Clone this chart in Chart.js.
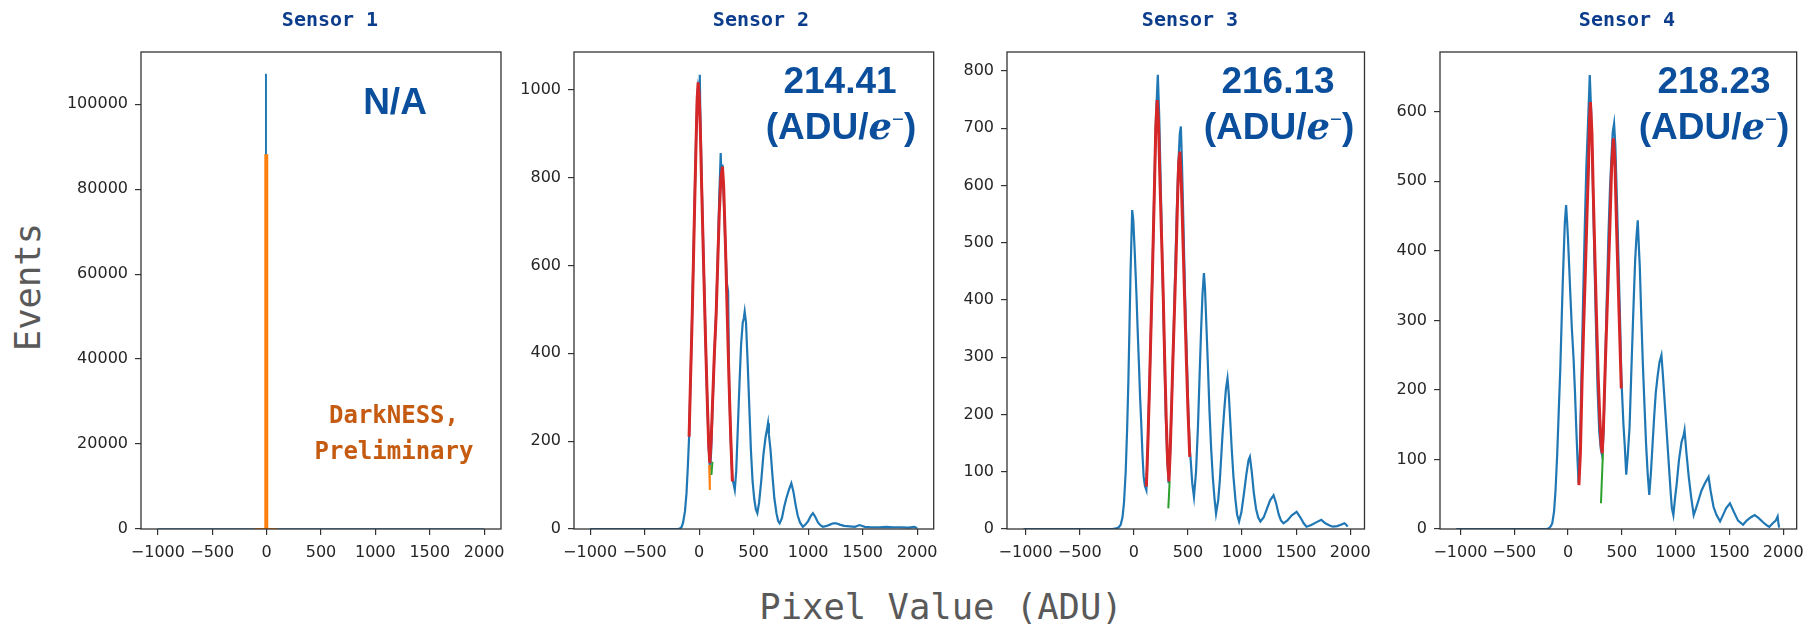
<!DOCTYPE html>
<html>
<head>
<meta charset="utf-8">
<script src="https://cdn.jsdelivr.net/npm/chart.js@4.4.0/dist/chart.umd.min.js"></script>
<style>
html, body { margin:0; padding:0; background:#fff; }
body { width:1812px; height:627px; overflow:hidden; position:relative; }
.pane { position:absolute; top:0; }
.txt { position:absolute; transform:translate(-50%,-50%); white-space:nowrap; line-height:1; }
.sensor { font-family:'DejaVu Sans Mono', monospace; font-weight:bold; font-size:20px; color:#0c3c8c; }
.gain { font-family:'Liberation Sans', Arial, sans-serif; font-weight:bold; font-size:37px; color:#0b4f9c; }
.gain .e { font-family:'DejaVu Serif', serif; font-style:italic; font-weight:bold; font-size:37px; }
.gain .sup { display:inline-block; position:relative; top:-0.62em; font-size:0.55em; font-weight:normal; }
.dark { font-family:'DejaVu Sans Mono', monospace; font-weight:bold; font-size:24px; color:#c55a11; }
.axlab { font-family:'DejaVu Sans Mono', monospace; font-size:35.5px; color:#595959; }
</style>
</head>
<body>
<!-- one canvas per sensor -->
<div class="pane" style="left:56px"><canvas id="c1" width="457" height="575"></canvas></div>
<div class="pane" style="left:489px"><canvas id="c2" width="457" height="575"></canvas></div>
<div class="pane" style="left:922px"><canvas id="c3" width="457" height="575"></canvas></div>
<div class="pane" style="left:1355px"><canvas id="c4" width="457" height="575"></canvas></div>

<div class="txt sensor" style="left:330px;top:19px">Sensor  1</div>
<div class="txt sensor" style="left:761px;top:19px">Sensor  2</div>
<div class="txt sensor" style="left:1190px;top:19px">Sensor  3</div>
<div class="txt sensor" style="left:1627px;top:19px">Sensor  4</div>

<div class="txt gain" style="left:395px;top:101px">N/A</div>
<div class="txt gain" style="left:840px;top:80px">214.41</div>
<div class="txt gain" style="left:841px;top:126px">(ADU/<span class="e">e</span><span class="sup">−</span>)</div>
<div class="txt gain" style="left:1278px;top:80px">216.13</div>
<div class="txt gain" style="left:1279px;top:126px">(ADU/<span class="e">e</span><span class="sup">−</span>)</div>
<div class="txt gain" style="left:1714px;top:80px">218.23</div>
<div class="txt gain" style="left:1714px;top:126px">(ADU/<span class="e">e</span><span class="sup">−</span>)</div>

<div class="txt dark" style="left:394px;top:415px">DarkNESS,</div>
<div class="txt dark" style="left:394px;top:451px">Preliminary</div>

<div class="txt axlab" style="left:28px;top:287px;transform:translate(-50%,-50%) rotate(-90deg)">Events</div>
<div class="txt axlab" style="left:941px;top:607px">Pixel Value (ADU)</div>

<script>
//______________________________________________________
// tick labels
const xTicks  = [-1000, -500, 0, 500, 1000, 1500, 2000];
const yTicks1 = [0, 20000, 40000, 60000, 80000, 100000];
const yTicks2 = [0, 200, 400, 600, 800, 1000];
const yTicks3 = [0, 100, 200, 300, 400, 500, 600, 700, 800];
const yTicks4 = [0, 100, 200, 300, 400, 500, 600];

// sensor 1 : single spike, no gain
const s1Blue   = [[-1000,0],[-8,0],[-8,107000],[-4,107000],[-4,0],[2000,0]];
const s1Orange = [[-110,0],[-12,0],[-12,88000],[6,88000],[6,0],[100,0]];

// sensor 2 : [pixel value, events]
const s2Blue = [[-1000,0],[-200,0],[-177,1],[-160,5],[-147,15],[-130,40],[-116,81],[-104,140],[-92,210],
  [-80,330],[-65,480],[-52,625],[-40,760],[-28,890],[-18,985],[-9,1010],[0,1000],[6,1034],[10,960],[25,780],
  [43,590],[60,420],[75,290],[88,185],[100,135],[110,175],[125,290],[140,400],[156,495],[170,610],[185,760],
  [198,856],[205,790],[214,830],[225,760],[240,650],[255,560],[266,540],[275,330],[290,200],[305,115],[318,100],
  [327,89],[340,130],[355,230],[370,330],[385,420],[400,470],[410,480],[418,495],[430,470],[445,380],[460,280],
  [475,180],[490,110],[505,70],[520,45],[534,36],[550,60],[570,110],[590,170],[610,210],[625,230],[632,241],
  [640,215],[655,180],[670,130],[690,70],[710,35],[725,18],[739,13],[760,25],[780,50],[800,70],[825,90],
  [846,104],[865,85],[885,55],[905,30],[925,15],[952,5],[975,10],[1000,18],[1025,30],[1044,36],[1065,28],
  [1090,15],[1115,8],[1136,5],[1170,7],[1200,10],[1230,13],[1258,13],[1290,10],[1330,7],[1380,6],[1430,5],
  [1471,9],[1520,5],[1580,4],[1650,4],[1716,5],[1780,4],[1850,4],[1920,3],[1975,5],[2000,2]];
const s2Red = [[-92,210],[-80,330],[-65,470],[-52,613],[-40,750],[-28,880],[-18,980],[-9,1017],[0,990],
  [10,920],[25,760],[43,582],[60,420],[75,290],[88,190],[98,150],[110,200],[125,300],[140,400],[156,487],
  [170,600],[185,720],[200,800],[214,825],[225,780],[240,660],[260,468],[275,330],[290,210],[305,108]];
const s2Green  = [[113,123],[122,153]];
const s2Orange = [[92,146],[98,89]];

// sensor 3
const s3Blue = [[-1020,0],[-200,0],[-160,1],[-140,3],[-122,7],[-105,20],[-91,45],[-75,100],[-61,179],[-50,260],
  [-40,353],[-30,450],[-24,493],[-15,557],[-5,540],[9,482],[24,412],[35,350],[46,295],[58,230],[70,179],[80,130],
  [91,91],[103,75],[116,68],[130,150],[145,250],[160,360],[175,470],[190,600],[205,720],[222,793],[235,720],
  [250,590],[265,450],[280,330],[295,200],[310,120],[322,80],[335,130],[350,220],[365,320],[380,430],[395,540],
  [410,630],[425,690],[435,703],[445,640],[460,520],[475,400],[490,300],[505,200],[517,140],[526,120],[540,80],
  [556,56],[575,100],[593,179],[610,280],[623,353],[635,410],[648,447],[658,420],[669,365],[684,290],[699,208],
  [715,140],[730,91],[745,55],[760,27],[780,50],[795,85],[806,120],[820,165],[836,208],[852,245],[866,263],
  [878,235],[891,190],[905,140],[921,91],[940,50],[955,25],[973,13],[995,30],[1018,62],[1040,95],[1060,120],
  [1073,126],[1090,100],[1110,62],[1130,35],[1150,20],[1170,13],[1200,20],[1230,35],[1260,50],[1292,59],
  [1315,45],[1340,25],[1360,15],[1383,10],[1420,15],[1460,24],[1505,30],[1540,20],[1570,10],[1596,4],
  [1640,7],[1690,12],[1733,16],[1770,10],[1810,6],[1839,4],[1880,5],[1920,8],[1946,10],[1965,7],[1976,4]];
const s3Red = [[116,74],[130,150],[145,250],[160,360],[175,470],[190,590],[203,700],[216,749],[228,710],
  [240,620],[255,520],[271,416],[285,300],[300,190],[312,120],[325,83],[337,140],[350,220],[362,300],
  [374,371],[390,470],[405,580],[415,640],[426,659],[440,600],[455,500],[471,393],[485,300],[500,210],[517,126]];
const s3Green = [[319,36],[331,83]];

// sensor 4
const s4Blue = [[-1040,0],[-200,0],[-177,1],[-160,4],[-147,8],[-130,25],[-116,56],[-100,110],[-86,171],
  [-72,230],[-61,291],[-50,350],[-40,396],[-30,440],[-18,466],[-8,440],[0,416],[10,380],[21,339],[35,290],
  [52,243],[65,195],[76,147],[88,100],[98,66],[110,110],[125,220],[140,330],[155,430],[170,520],[185,580],
  [202,653],[215,600],[230,500],[245,390],[260,290],[275,200],[290,140],[305,115],[318,105],[330,140],
  [345,230],[360,330],[375,420],[390,490],[405,540],[415,570],[428,583],[440,550],[455,470],[470,380],
  [485,290],[495,220],[502,195],[515,150],[526,123],[541,78],[557,110],[572,147],[587,220],[602,291],
  [614,345],[624,387],[636,420],[648,444],[657,410],[667,377],[680,310],[694,243],[710,180],[725,123],
  [740,80],[755,49],[770,80],[786,123],[800,160],[815,195],[832,219],[850,240],[868,250],[880,225],
  [893,195],[908,160],[924,123],[940,85],[955,50],[965,30],[979,20],[995,45],[1010,65],[1031,99],
  [1055,125],[1075,135],[1083,142],[1100,110],[1122,75],[1145,45],[1168,20],[1190,30],[1214,42],
  [1240,55],[1270,65],[1306,75],[1325,55],[1352,32],[1380,20],[1413,11],[1440,20],[1470,30],[1505,37],
  [1540,25],[1580,12],[1627,6],[1660,12],[1700,17],[1734,20],[1770,16],[1810,10],[1850,5],[1871,3],
  [1900,8],[1930,12],[1948,18],[1957,6],[1962,2]];
const s4Red = [[101,63],[115,110],[130,210],[145,290],[160,365],[175,445],[190,520],[200,590],[208,614],
  [222,570],[235,480],[250,390],[263,313],[280,220],[295,160],[308,120],[318,109],[330,150],[345,230],
  [360,300],[375,370],[390,440],[405,520],[422,562],[435,530],[450,440],[465,360],[480,280],[495,202]];
const s4Green = [[306,37],[324,109]];

const Blue = '#1f77b4', Orange = '#ff7f0e', Green = '#2ca02c', Red = '#d62728';

//______________________________________________________
const framePlugin = {  // matplotlib style box round the axes
  id: 'frame',
  afterDatasetsDraw(chart) {
    const a = chart.chartArea, ctx = chart.ctx;
    ctx.save();
    ctx.strokeStyle = '#333';
    ctx.lineWidth = 1.3;
    ctx.strokeRect(a.left, a.top, a.right - a.left, a.bottom - a.top);
    ctx.restore();
  }
};

function toXY(pairs) {
  return pairs.map(p => ({x: p[0], y: p[1]}));
}
function line(pairs, color, width, order) {
  return {data: toXY(pairs), borderColor: color, borderWidth: width, order: order,
          pointRadius: 0, fill: false, tension: 0};
}
function fmtX(v) {
  return v < 0 ? '\u2212' + Math.abs(v) : String(v);
}
//______________________________________________________
function makeChart(id, datasets, xMin, xMax, yMax, yTicks) {
  return new Chart(id, {
    type: 'line',
    data: {datasets: datasets},
    plugins: [framePlugin],
    options: {
      responsive: false,
      animation: false,
      events: [],
      layout: {padding: {top: 52, right: 11, bottom: 0, left: 0}},
      plugins: {legend: {display: false}, tooltip: {enabled: false}, title: {display: false}},
      scales: {
        x: {
          type: 'linear', min: xMin, max: xMax,
          afterBuildTicks: s => { s.ticks = xTicks.map(v => ({value: v})); },
          afterFit: s => { s.height = 46; },
          border: {display: false},
          grid: {drawOnChartArea: false, tickLength: 6, color: '#333', lineWidth: 1.2},
          ticks: {font: {family: 'DejaVu Sans', size: 16}, color: '#262626', padding: 8,
                  autoSkip: false, maxRotation: 0, callback: fmtX}
        },
        y: {
          type: 'linear', min: 0, max: yMax,
          afterBuildTicks: s => { s.ticks = yTicks.map(v => ({value: v})); },
          afterFit: s => { s.width = 85; },
          border: {display: false},
          grid: {drawOnChartArea: false, tickLength: 6, color: '#333', lineWidth: 1.2},
          ticks: {font: {family: 'DejaVu Sans', size: 16}, color: '#262626', padding: 7,
                  autoSkip: false, callback: v => String(v)}
        }
      }
    }
  });
}
//______________________________________________________
makeChart('c1', [line(s1Orange, Orange, 2, 1), line(s1Blue, Blue, 1.5, 2)],
          -1155, 2155, 112300, yTicks1);
makeChart('c2', [line(s2Red, Red, 3, 0), line(s2Green, Green, 2, 1), line(s2Orange, Orange, 2, 2),
                 line(s2Blue, Blue, 2.2, 3)],
          -1148, 2152, 1086, yTicks2);
makeChart('c3', [line(s3Red, Red, 3, 0), line(s3Green, Green, 2, 1), line(s3Blue, Blue, 2.2, 3)],
          -1172, 2132, 833, yTicks3);
makeChart('c4', [line(s4Red, Red, 3, 0), line(s4Green, Green, 2, 1), line(s4Blue, Blue, 2.2, 3)],
          -1190, 2125, 686, yTicks4);
</script>
</body>
</html>
